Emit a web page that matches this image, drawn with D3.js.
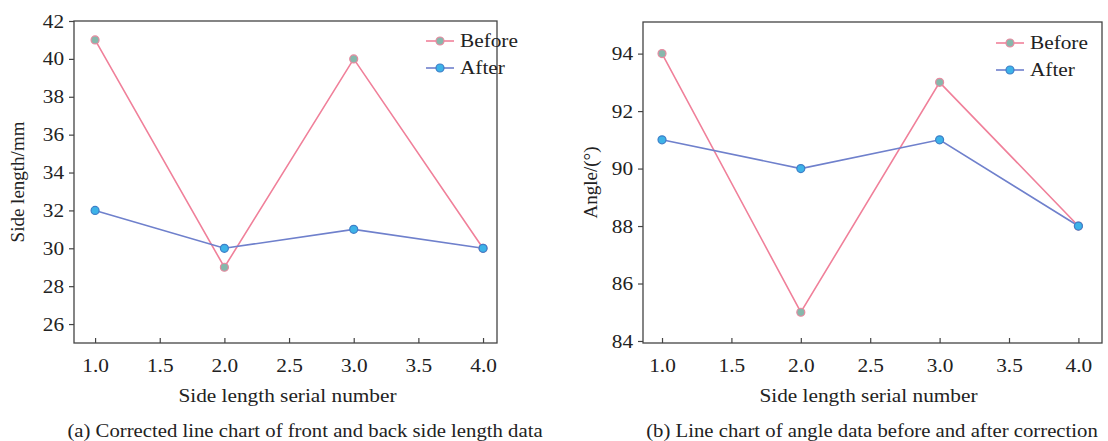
<!DOCTYPE html>
<html>
<head>
<meta charset="utf-8">
<script src="https://cdn.jsdelivr.net/npm/d3@7"></script>
<style>
  body { margin: 0; background: #fff; }
  svg text { font-family: "Liberation Serif", "Times New Roman", "DejaVu Serif", serif !important; fill: #222; }
</style>
</head>
<body>
<div id="chart"></div>
<script>
// serial numbers shared by both panels
var serial = [1, 2, 3, 4];

// panel (a) side length
var sideBefore = [41, 29, 40, 30];
var sideAfter = [32, 30, 31, 30];
var sideTicks = [26, 28, 30, 32, 34, 36, 38, 40, 42];

// panel (b) angle
var angleBefore = [94, 85, 93, 88];
var angleAfter = [91, 90, 91, 88];
var angleTicks = [84, 86, 88, 90, 92, 94];

var xTicks = [1.0, 1.5, 2.0, 2.5, 3.0, 3.5, 4.0];
var seriesNames = ["Before", "After"];

var svg = d3.select("#chart").append("svg")
  .attr("width", 1108)
  .attr("height", 441)
  .attr("font-family", "Liberation Serif");

var col = {
  before: { line: "#f0809a", fill: "#86b8ac", stroke: "#e88aa0" },
  after: { line: "#6f80cc", fill: "#3db3e8", stroke: "#3f7fc8" }
};

// reference text looks a bit stretched sideways
var stretch = 1.12;

function wide(sel) {
  sel.each(function() {
    var w = this.getComputedTextLength();
    d3.select(this).attr("textLength", w * stretch).attr("lengthAdjust", "spacingAndGlyphs");
  });
}

function panel(opt) {
  var g = svg.append("g");

  var x = d3.scaleLinear().domain(opt.xdom).range([opt.left, opt.right]);
  var y = d3.scaleLinear().domain(opt.ydom).range([opt.bottom, opt.top]);

  // frame
  g.append("rect")
    .attr("x", opt.left).attr("y", opt.top)
    .attr("width", opt.right - opt.left).attr("height", opt.bottom - opt.top)
    .attr("fill", "none").attr("stroke", "#444").attr("stroke-width", 1.3);

  // x axis, ticks pointing in
  var xa = g.append("g").attr("transform", "translate(0," + opt.bottom + ")")
    .call(d3.axisBottom(x).tickValues(xTicks).tickFormat(d3.format(".1f"))
      .tickSizeInner(-5).tickSizeOuter(0).tickPadding(16));
  xa.attr("font-family", null).attr("font-size", null);
  xa.select(".domain").remove();
  xa.selectAll("line").attr("stroke", "#444").attr("stroke-width", 1.2);
  xa.selectAll("text").style("font-size", "19px").attr("fill", "#222").call(wide);

  // y axis, ticks pointing out
  var ya = g.append("g").attr("transform", "translate(" + opt.left + ",0)")
    .call(d3.axisLeft(y).tickValues(opt.yticks).tickSizeInner(5).tickSizeOuter(0).tickPadding(5));
  ya.attr("font-family", null).attr("font-size", null);
  ya.select(".domain").remove();
  ya.selectAll("line").attr("stroke", "#444").attr("stroke-width", 1.2);
  ya.selectAll("text").style("font-size", "19px").attr("fill", "#222").call(wide);

  var line = d3.line().x(function(d, i) { return x(serial[i]); }).y(function(d) { return y(d); });

  var sets = [
    { vals: opt.before, c: col.before },
    { vals: opt.after, c: col.after }
  ];
  sets.forEach(function(s) {
    g.append("path").datum(s.vals)
      .attr("d", line)
      .attr("fill", "none")
      .attr("stroke", s.c.line)
      .attr("stroke-width", 1.6);
  });
  sets.forEach(function(s) {
    g.selectAll(null).data(s.vals).enter().append("circle")
      .attr("cx", function(d, i) { return x(serial[i]); })
      .attr("cy", function(d) { return y(d); })
      .attr("r", 4)
      .attr("fill", s.c.fill)
      .attr("stroke", s.c.stroke)
      .attr("stroke-width", 1.2);
  });

  // legend
  var lg = g.append("g").attr("transform", "translate(" + opt.legX + "," + opt.legY + ")");
  sets.forEach(function(s, i) {
    var yy = i * 27;
    lg.append("line").attr("x1", 0).attr("x2", 28).attr("y1", yy).attr("y2", yy)
      .attr("stroke", s.c.line).attr("stroke-width", 1.6);
    lg.append("circle").attr("cx", 14).attr("cy", yy).attr("r", 4)
      .attr("fill", s.c.fill).attr("stroke", s.c.stroke).attr("stroke-width", 1.2);
    lg.append("text").attr("x", 34).attr("y", yy + 6)
      .style("font-size", "19px").text(seriesNames[i]).call(wide);
  });

  // axis titles
  g.append("text")
    .attr("x", (opt.left + opt.right) / 2 + opt.xtOff).attr("y", 402)
    .attr("text-anchor", "middle").style("font-size", "19px")
    .text("Side length serial number").call(wide);

  g.append("text")
    .attr("transform", "translate(" + opt.ytX + "," + ((opt.top + opt.bottom) / 2) + ") rotate(-90)")
    .attr("text-anchor", "middle").style("font-size", "19px")
    .text(opt.ytitle);

  g.append("text")
    .attr("x", opt.capX).attr("y", 437)
    .attr("text-anchor", "middle").style("font-size", "18.5px")
    .text(opt.caption).call(wide);
}

panel({
  left: 74, right: 497, top: 21, bottom: 343,
  xdom: [0.837, 4.108], ydom: [25, 42],
  yticks: sideTicks, before: sideBefore, after: sideAfter,
  legX: 426, legY: 41, xtOff: 2, ytX: 24,
  ytitle: "Side length/mm",
  capX: 305, caption: "(a) Corrected line chart of front and back side length data"
});

panel({
  left: 643, right: 1102, top: 22, bottom: 343,
  xdom: [0.863, 4.17], ydom: [83.93, 95.1],
  yticks: angleTicks, before: angleBefore, after: angleAfter,
  legX: 996, legY: 43, xtOff: -4, ytX: 597,
  ytitle: "Angle/(°)",
  capX: 872, caption: "(b) Line chart of angle data before and after correction"
});
</script>
</body>
</html>
